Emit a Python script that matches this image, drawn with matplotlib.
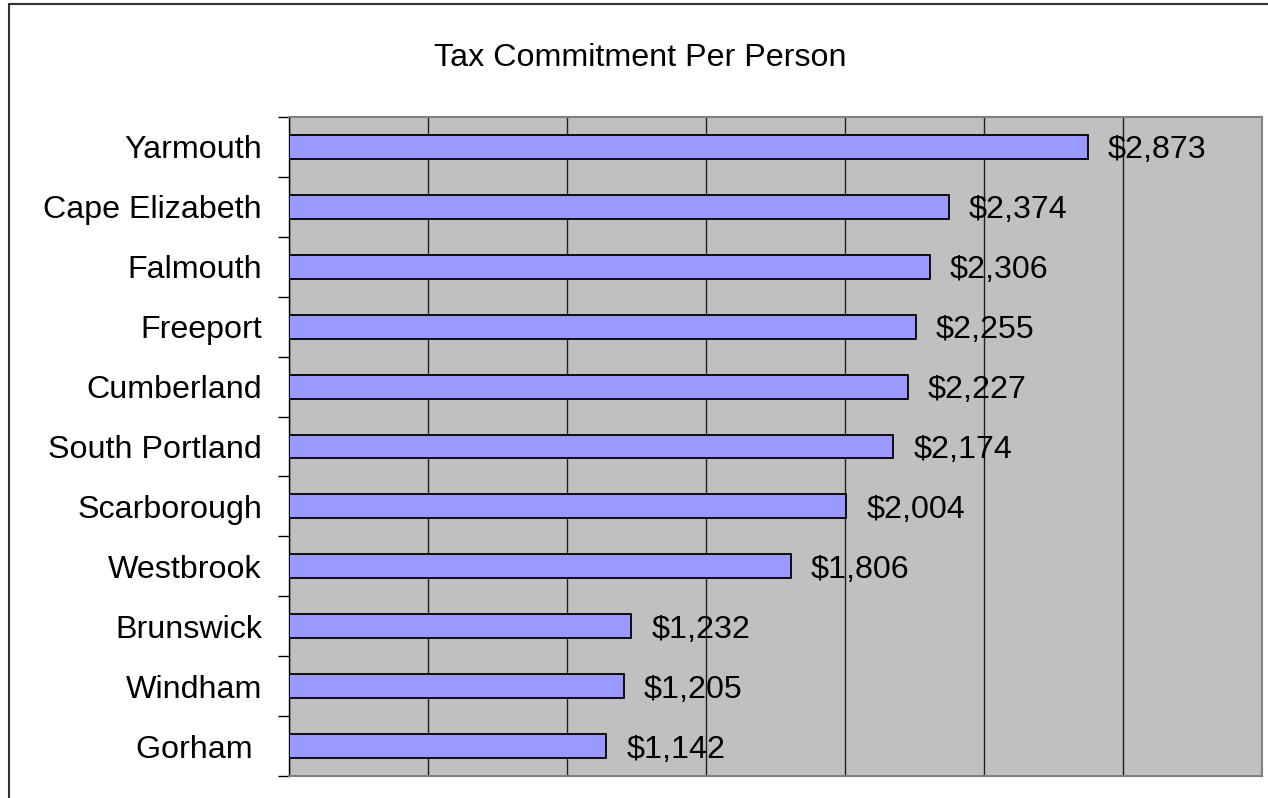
import matplotlib
matplotlib.use("Agg")
import matplotlib.pyplot as plt
from matplotlib.patches import Rectangle

towns = ["Yarmouth", "Cape Elizabeth", "Falmouth", "Freeport", "Cumberland",
         "South Portland", "Scarborough", "Westbrook", "Brunswick", "Windham", "Gorham "]
values = [2873, 2374, 2306, 2255, 2227, 2174, 2004, 1806, 1232, 1205, 1142]
title = "Tax Commitment Per Person"

plt.rcParams['font.family'] = ['Liberation Sans', 'DejaVu Sans']
FS = 23.2

fig = plt.figure(figsize=(12.68, 7.98), dpi=100)
ax = fig.add_axes([289/1268, 1-776/798, (1262-289)/1268, (776-117)/798])
ax.set_facecolor('#C0C0C0')

n = len(towns)
ypos = list(range(n))
ax.barh(ypos, values, height=0.4, color='#9999FF', edgecolor='black', linewidth=1.3, zorder=3)
ax.set_ylim(n - 0.5, -0.5)
ax.set_xlim(0, 3500)
ax.set_xticks(range(0, 3501, 500))
ax.tick_params(axis='x', length=0, labelbottom=False)
ax.xaxis.grid(True, color='#202020', linewidth=1)
ax.set_axisbelow(True)

ax.set_yticks(ypos)
ax.set_yticklabels(towns, fontsize=FS)
ax.tick_params(axis='y', length=0, pad=19.5)
for lbl in ax.get_yticklabels():
    lbl.set_verticalalignment('center_baseline')
# minor ticks at category boundaries
ax.set_yticks([i - 0.5 for i in range(n + 1)], minor=True)
ax.tick_params(axis='y', which='minor', length=8, width=1, color='black', direction='out')

for y, v in zip(ypos, values):
    ax.text(v + 72, y, f"${v:,}", va='center_baseline', ha='left', fontsize=FS, zorder=4)

for s in ['top', 'right', 'bottom']:
    ax.spines[s].set_color('#808080')
    ax.spines[s].set_linewidth(1.5)
ax.spines['left'].set_color('black')
ax.spines['left'].set_linewidth(1)

fig.text(640/1268, 1-66/798, title, ha='center', va='baseline', fontsize=FS)

fig.patches.append(Rectangle((8.5/1268, -0.1), 1.2, 1 - 3.5/798 + 0.1, transform=fig.transFigure,
                             fill=False, edgecolor='#333333', linewidth=1.5, clip_on=False))

fig.savefig("out.png", dpi=100)
